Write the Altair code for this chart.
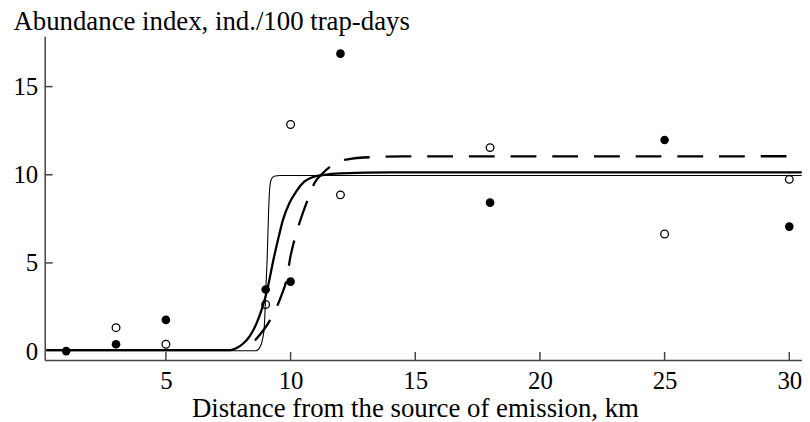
import altair as alt
import pandas as pd

# Observed data points (distance km, abundance index)
filled_x = [1, 3, 5, 9, 10, 12, 18, 25, 30]
filled_y = [0.0, 0.39, 1.77, 3.49, 3.94, 16.87, 8.42, 11.97, 7.06]
open_x = [3, 5, 9, 10, 12, 18, 25, 30]
open_y = [1.33, 0.39, 2.64, 12.85, 8.86, 11.54, 6.64, 9.74]

# Fitted curves
thin_x = [0.2, 8.62, 8.78, 8.88, 8.94, 8.98, 9.02, 9.06, 9.12, 9.16, 9.22, 9.34, 9.58, 30.5]
thin_y = [0.02, 0.02, 0.24, 0.71, 1.28, 2.4, 3.9, 5.2, 8.0, 9.16, 9.72, 9.92, 9.96, 9.96]
thick_x = [0.2, 7.6, 7.86, 8.1, 8.37, 8.63, 8.83, 8.97, 9.1, 9.3, 9.5, 9.7, 9.96,
           10.23, 10.56, 10.89, 11.29, 12.0, 14.0, 30.5]
thick_y = [0.05, 0.06, 0.19, 0.43, 0.87, 1.56, 2.31, 2.97, 3.71, 5.1, 6.34, 7.47, 8.41,
           9.06, 9.62, 9.87, 9.98, 10.08, 10.13, 10.13]
dash_x = [8.57, 9.17, 9.63, 9.83, 10.0, 10.16, 10.36, 10.69, 10.96, 11.3, 11.69,
          12.29, 13.28, 14.5, 30.5]
dash_y = [0.6, 1.74, 3.15, 4.0, 5.4, 6.34, 7.28, 8.59, 9.53, 10.1, 10.56,
          10.88, 11.0, 11.04, 11.05]

x_ticks = [5, 10, 15, 20, 25, 30]
y_ticks = [0, 5, 10, 15]
y_inner_ticks = [5, 10, 15]

W, H = 763, 326
FONT = "Liberation Serif"
AX = "#444444"

xs = alt.Scale(domain=[0.14, 30.51], nice=False, zero=False)
ys = alt.Scale(domain=[-0.5, 17.85], nice=False, zero=False)

x_axis = alt.Axis(values=x_ticks, ticks=False, grid=False, domainColor=AX, domainWidth=1.5,
                  labelFont=FONT, labelFontSize=25, labelColor="black", labelPadding=9,
                  title="Distance from the source of emission, km", titleFont=FONT,
                  titleFontSize=27, titleFontWeight="normal", titleColor="black",
                  titleX=373, titleY=57, titleAlign="center", titleBaseline="alphabetic")
y_axis = alt.Axis(values=y_ticks, ticks=False, grid=False, domainColor=AX, domainWidth=1.5,
                  labelFont=FONT, labelFontSize=25, labelColor="black", labelPadding=7,
                  title="Abundance index, ind./100 trap-days", titleFont=FONT,
                  titleFontSize=27, titleFontWeight="normal", titleColor="black",
                  titleAngle=0, titleX=-32, titleY=-7, titleAlign="left",
                  titleBaseline="alphabetic")

thin_df = pd.DataFrame({"x": thin_x, "y": thin_y})
thick_df = pd.DataFrame({"x": thick_x, "y": thick_y})
dash_df = pd.DataFrame({"x": dash_x, "y": dash_y})
filled_df = pd.DataFrame({"x": filled_x, "y": filled_y})
open_df = pd.DataFrame({"x": open_x, "y": open_y})

base_axes = alt.Chart(thin_df).mark_line(color="black", strokeWidth=1.1, interpolate="monotone").encode(
    x=alt.X("x:Q", scale=xs, axis=x_axis),
    y=alt.Y("y:Q", scale=ys, axis=y_axis),
)
thick = alt.Chart(thick_df).mark_line(color="black", strokeWidth=2.3, interpolate="monotone").encode(
    x=alt.X("x:Q", scale=xs), y=alt.Y("y:Q", scale=ys))
dash = alt.Chart(dash_df).mark_line(color="black", strokeWidth=2.3, strokeDash=[26, 16],
                                    interpolate="monotone").encode(
    x=alt.X("x:Q", scale=xs), y=alt.Y("y:Q", scale=ys))
pts_f = alt.Chart(filled_df).mark_circle(color="black", size=75, opacity=1).encode(
    x=alt.X("x:Q", scale=xs), y=alt.Y("y:Q", scale=ys))
pts_o = alt.Chart(open_df).mark_point(shape="circle", filled=False, color="black", size=60,
                                      strokeWidth=1.3, opacity=1).encode(
    x=alt.X("x:Q", scale=xs), y=alt.Y("y:Q", scale=ys))

xt = alt.Chart(pd.DataFrame({"t": x_ticks})).mark_rule(color=AX, strokeWidth=1.5).encode(
    x=alt.X("t:Q", scale=xs), y=alt.value(H - 8), y2=alt.value(H))
yt = alt.Chart(pd.DataFrame({"t": y_inner_ticks})).mark_rule(color=AX, strokeWidth=1.5).encode(
    y=alt.Y("t:Q", scale=ys), x=alt.value(0), x2=alt.value(8))

chart = alt.layer(base_axes, thick, dash, xt, yt, pts_o, pts_f).properties(
    width=W, height=H,
    autosize=alt.AutoSizeParams(type="none"),
    padding={"left": 37, "top": 27, "right": 0, "bottom": 62},
    background="white",
).configure_view(stroke=None)

chart.save("out.html", embed_options={"renderer": "svg", "actions": False})
